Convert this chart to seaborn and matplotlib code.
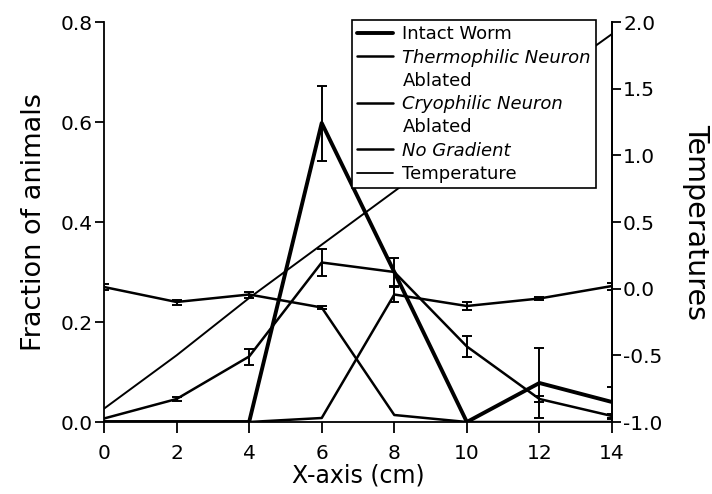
import numpy as np
import pandas as pd
import matplotlib
matplotlib.use("Agg")
import matplotlib.pyplot as plt
from matplotlib.lines import Line2D
import seaborn as sns

# ---- data ----
x_cm = [0, 2, 4, 6, 8, 10, 12, 14]

intact = [0.0, 0.0, 0.0, 0.598, 0.30, 0.0, 0.078, 0.040]
intact_err = [0.0, 0.0, 0.0, 0.075, 0.028, 0.0, 0.070, 0.031]

thermo = [0.270, 0.240, 0.255, 0.229, 0.014, 0.0, 0.0, 0.0]
thermo_err = [0.006, 0.005, 0.006, 0.003, 0.0, 0.0, 0.0, 0.0]

cryo = [0.0, 0.0, 0.0, 0.008, 0.255, 0.232, 0.247, 0.272]
cryo_err = [0.0, 0.0, 0.0, 0.0, 0.015, 0.008, 0.003, 0.007]

nograd = [0.007, 0.046, 0.131, 0.319, 0.300, 0.151, 0.046, 0.012]
nograd_err = [0.0, 0.004, 0.016, 0.027, 0.0, 0.021, 0.006, 0.005]

temperature = [-0.90, -0.50, -0.07, 0.33, 0.73, 1.13, 1.52, 1.91]

legend_labels = ["Intact Worm", "Thermophilic Neuron", "Ablated",
                 "Cryophilic Neuron", "Ablated", "No Gradient", "Temperature"]

sns.set_theme(style="ticks")
plt.rcParams["font.family"] = ["DejaVu Sans"]
plt.rcParams.update({"text.color": "black", "axes.labelcolor": "black",
                     "xtick.color": "black", "ytick.color": "black"})

fig = plt.figure(figsize=(7.12, 4.94), dpi=100)
ax = fig.add_axes([104/712, 1-422/494, 508/712, 400/494])
ax2 = ax.twinx()

df = pd.DataFrame({"x": x_cm, "intact": intact, "thermo": thermo,
                   "cryo": cryo, "nograd": nograd, "temp": temperature})

series = [("intact", intact_err, 2.8), ("thermo", thermo_err, 1.8),
          ("cryo", cryo_err, 1.8), ("nograd", nograd_err, 1.8)]
for name, err, lw in series:
    sns.lineplot(data=df, x="x", y=name, ax=ax, color="black", lw=lw,
                 legend=False, zorder=3)
    e = np.array(err)
    m = e > 0
    ax.errorbar(np.array(x_cm)[m], df[name].values[m], yerr=e[m], fmt="none",
                ecolor="black", elinewidth=1.4, capsize=3.6, capthick=1.4, zorder=3)

sns.lineplot(data=df, x="x", y="temp", ax=ax2, color="black", lw=1.4,
             legend=False, zorder=2)

ax.set_xlim(0, 14)
ax.set_ylim(0, 0.8)
ax2.set_ylim(-1.0, 2.0)
ax.set_xticks(x_cm)
ax.set_yticks([0.0, 0.2, 0.4, 0.6, 0.8])
ax.set_yticklabels(["0.0", "0.2", "0.4", "0.6", "0.8"])
ax2.set_yticks([-1.0, -0.5, 0.0, 0.5, 1.0, 1.5, 2.0])
ax2.set_yticklabels(["-1.0", "-0.5", "0.0", "0.5", "1.0", "1.5", "2.0"])

for a in (ax, ax2):
    a.spines["top"].set_visible(False)
    for s in a.spines.values():
        s.set_linewidth(1.3)
        s.set_color("black")
    a.tick_params(axis="y", direction="out", length=6.5, width=1.3,
                  colors="black", labelsize=14.5, pad=1.5)
ax.tick_params(axis="x", direction="out", length=8, width=1.3,
               colors="black", labelsize=14.5, pad=8)
ax2.spines["left"].set_visible(False)
ax2.spines["bottom"].set_visible(False)

ax.set_xlabel("X-axis (cm)", fontsize=17, labelpad=0)
ax.set_ylabel("Fraction of animals", fontsize=19.5, labelpad=10)
ax2.set_ylabel("Temperatures", fontsize=20.5, rotation=270, labelpad=34)

handles = [
    Line2D([], [], color="black", lw=2.8),
    Line2D([], [], color="black", lw=1.8),
    Line2D([], [], color="none", lw=0),
    Line2D([], [], color="black", lw=1.8),
    Line2D([], [], color="none", lw=0),
    Line2D([], [], color="black", lw=1.8),
    Line2D([], [], color="black", lw=1.3),
]
leg = ax2.legend(handles, legend_labels, loc="upper left",
                 bbox_to_anchor=(0.488, 1.005), fontsize=13,
                 frameon=True, fancybox=False, handlelength=2.0,
                 handletextpad=0.5, labelspacing=0.29, borderpad=0.3,
                 borderaxespad=0.0)
leg.get_frame().set_edgecolor("black")
leg.get_frame().set_linewidth(1.2)
leg.get_frame().set_alpha(1.0)
for t in leg.get_texts():
    t.set_color("black")
    if t.get_text() in ("Thermophilic Neuron", "Cryophilic Neuron", "No Gradient"):
        t.set_fontstyle("italic")

fig.savefig("out.png", dpi=100)
